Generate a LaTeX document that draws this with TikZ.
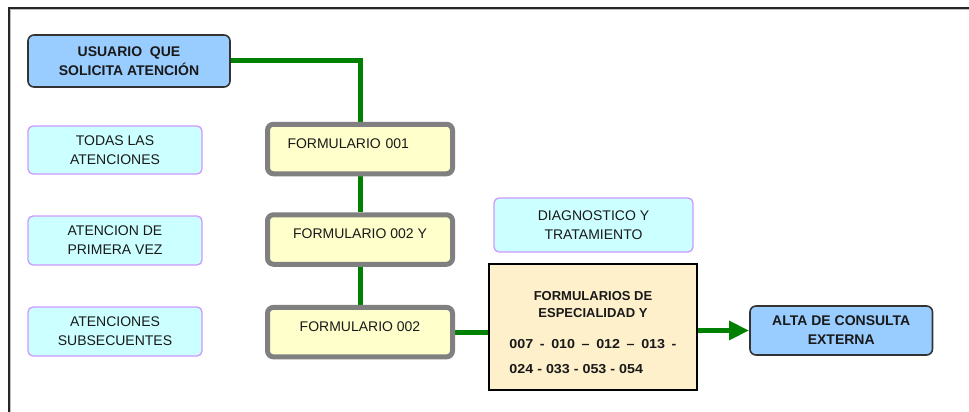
\documentclass[tikz,border=0pt]{standalone}
\usepackage{fontspec}
\setmainfont{Liberation Sans}
\usepackage{graphicx}
\usetikzlibrary{arrows.meta,backgrounds}
\definecolor{usublue}{HTML}{99CCFF}
\definecolor{lightcyan}{HTML}{CCFFFF}
\definecolor{lavender}{HTML}{CC99FF}
\definecolor{formyellow}{HTML}{FFFFCC}
\definecolor{formgray}{HTML}{808080}
\definecolor{espfill}{HTML}{FFF0CC}
\definecolor{linkgreen}{HTML}{008000}
\definecolor{darkborder}{HTML}{333333}
\begin{document}
\begin{tikzpicture}[x=1pt,y=-1pt,
  txt/.style={font=\fontsize{14}{19}\selectfont, align=center, inner sep=0pt, text=black!90},
  bluebox/.style={txt, font=\fontsize{14}{19}\selectfont\bfseries, draw=darkborder, line width=1.6pt, fill=usublue, rounded corners=6pt},
  infobox/.style={txt, draw=lavender, line width=1.3pt, fill=lightcyan, rounded corners=5pt, minimum width=174pt},
  formbox/.style={txt, draw=formgray, line width=5pt, fill=formyellow, rounded corners=6pt, minimum width=185pt, text height=24pt, text depth=25.5pt},
  espbox/.style={draw=black, line width=1.8pt, fill=espfill, minimum width=208.5pt, minimum height=126pt, inner sep=0pt},
  esptext/.style={font=\fontsize{13}{17}\selectfont\bfseries, inner sep=0pt, text=black!90},
  link/.style={draw=linkgreen, line width=5pt},
  ]
\useasboundingbox (0,0) rectangle (969,412);
% frame
\draw[gray!50, line width=1pt] (10.5,412) -- (10.5,9.5) -- (969,9.5);
\draw[black!85, line width=1.5pt] (9,412) -- (9,8) -- (969,8);

\node[bluebox, minimum width=202pt, minimum height=52pt] (usu) at (129,61) {USUARIO\ \ QUE\\SOLICITA ATENCIÓN};
\node[infobox, minimum height=48pt] (todas) at (115,150) {TODAS LAS\\ATENCIONES};
\node[infobox, minimum height=49pt] (prim) at (115,240.5) {ATENCION DE\\PRIMERA VEZ};
\node[infobox, minimum height=49pt] (subs) at (115,331.5) {ATENCIONES\\SUBSECUENTES};
\node[infobox, minimum width=199pt, minimum height=54pt] (diag) at (593.5,225) {DIAGNOSTICO Y\\TRATAMIENTO};

\node[formbox, align=left, text width=145pt, inner xsep=20pt] (f1) at (360,149) {FORMULARIO 001};
\node[formbox] (f2) at (360,239.5) {FORMULARIO 002 Y};
\node[formbox] (f3) at (360,332.1) {FORMULARIO 002};

\node[espbox] (esp) at (593,327) {};
\node[esptext, yshift=-6.6pt] (esptxt) at (esp.center) {\begin{tabular}{@{}l@{}}\multicolumn{1}{@{}c@{}}{FORMULARIOS DE}\\ \multicolumn{1}{@{}c@{}}{ESPECIALIDAD Y}\\[14pt] \scalebox{1.1}[1]{007\hspace{6pt}-\hspace{6pt}010\hspace{6pt}–\hspace{6pt}012\hspace{6pt}–\hspace{6pt}013\hspace{6pt}-}\\[8pt] \scalebox{1.1}[1]{024 - 033 - 053 - 054}\end{tabular}};

\node[bluebox, minimum width=182.5pt, minimum height=49pt] (alt) at (841.25,330.5) {ALTA DE CONSULTA\\EXTERNA};

\begin{scope}[on background layer]
\draw[link] (usu.east) -| (f1.north);
\draw[link] (f1.south) -- (f2.north);
\draw[link] (f2.south) -- (f3.north);
\draw[link] (f3.east) -- (f3.east -| esp.west);
\draw[link, -{Triangle[length=20pt,width=18pt]}] (esp.east |- alt.west) -- (alt.west);
\end{scope}
\end{tikzpicture}
\end{document}
